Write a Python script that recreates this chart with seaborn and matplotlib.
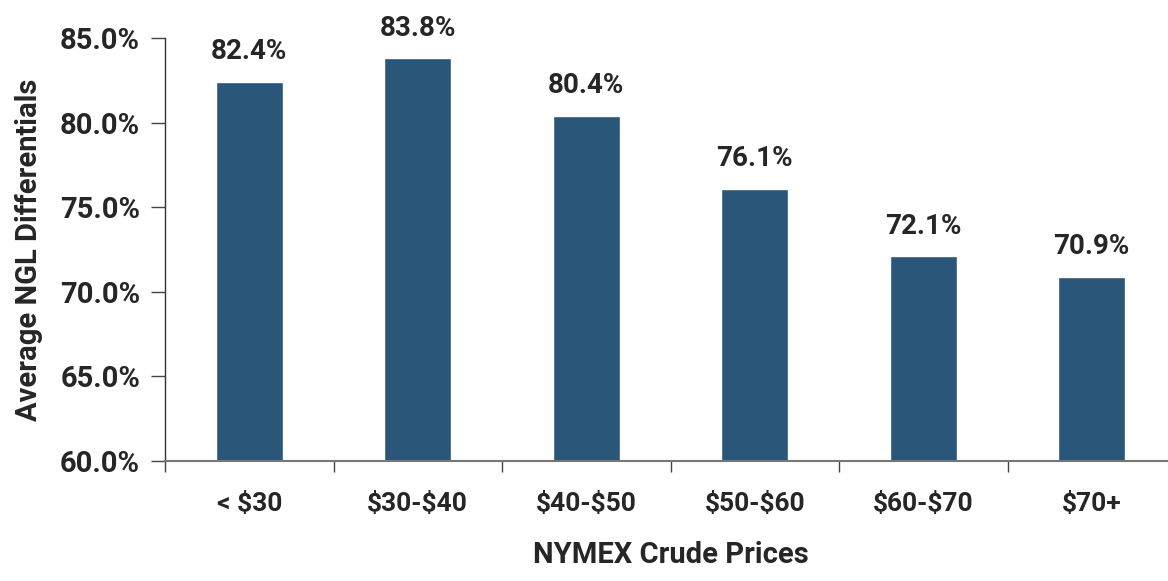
import matplotlib
matplotlib.use("Agg")
import matplotlib.pyplot as plt
import seaborn as sns
import pandas as pd

# data
categories = ["< $30", "$30-$40", "$40-$50", "$50-$60", "$60-$70", "$70+"]
differentials = [82.4, 83.8, 80.4, 76.1, 72.1, 70.9]
y_ticks = [60, 65, 70, 75, 80, 85]

df = pd.DataFrame({"price": categories, "diff": differentials})

sns.set_style("white")
plt.rcParams['font.family'] = ['Liberation Sans Narrow', 'Roboto', 'DejaVu Sans']
plt.rcParams['font.weight'] = 'bold'
plt.rcParams['text.parse_math'] = False

fig = plt.figure(figsize=(11.68, 5.81), dpi=100)
ax = fig.add_axes([165 / 1168, 1 - 461 / 581, 1011 / 1168, 423 / 581])

sns.barplot(data=df, x="price", y="diff", color="#2A5679", width=0.4,
            saturation=1, ax=ax)

ax.set_ylim(60, 85)
ax.set_xlim(-0.5, len(categories) - 0.5)
ax.set_yticks(y_ticks)
ax.set_yticklabels([f"{v:.1f}%" for v in y_ticks], fontsize=21, fontweight="bold")
ax.set_xticks(range(len(categories)))
ax.set_xticklabels(categories, fontsize=19, fontweight="bold")

# ticks at category boundaries on x
ax.set_xticks([i - 0.5 for i in range(len(categories) + 1)], minor=True)
ax.tick_params(axis="x", which="major", length=0, pad=22)
ax.tick_params(axis="x", which="minor", length=8, width=1, color="#444444",
               direction="out", bottom=True)
ax.tick_params(axis="y", length=10, width=1, color="#444444", direction="out",
               left=True, pad=8)

for s in ["top", "right"]:
    ax.spines[s].set_visible(False)
ax.spines["left"].set_color("#333333")
ax.spines["bottom"].set_color("#777777")
ax.spines["left"].set_linewidth(1)
ax.spines["bottom"].set_linewidth(1.5)

for i, v in enumerate(differentials):
    ax.annotate(f"{v:.1f}%", (i, v), xytext=(0, 12), textcoords="offset points",
                ha="center", va="bottom", fontsize=20, fontweight="bold")

ax.set_xlabel("NYMEX Crude Prices", fontsize=21, fontweight="bold", labelpad=18)
ax.set_ylabel("Average NGL Differentials", fontsize=21, fontweight="bold", labelpad=12)

fig.savefig("out.png", dpi=100)
